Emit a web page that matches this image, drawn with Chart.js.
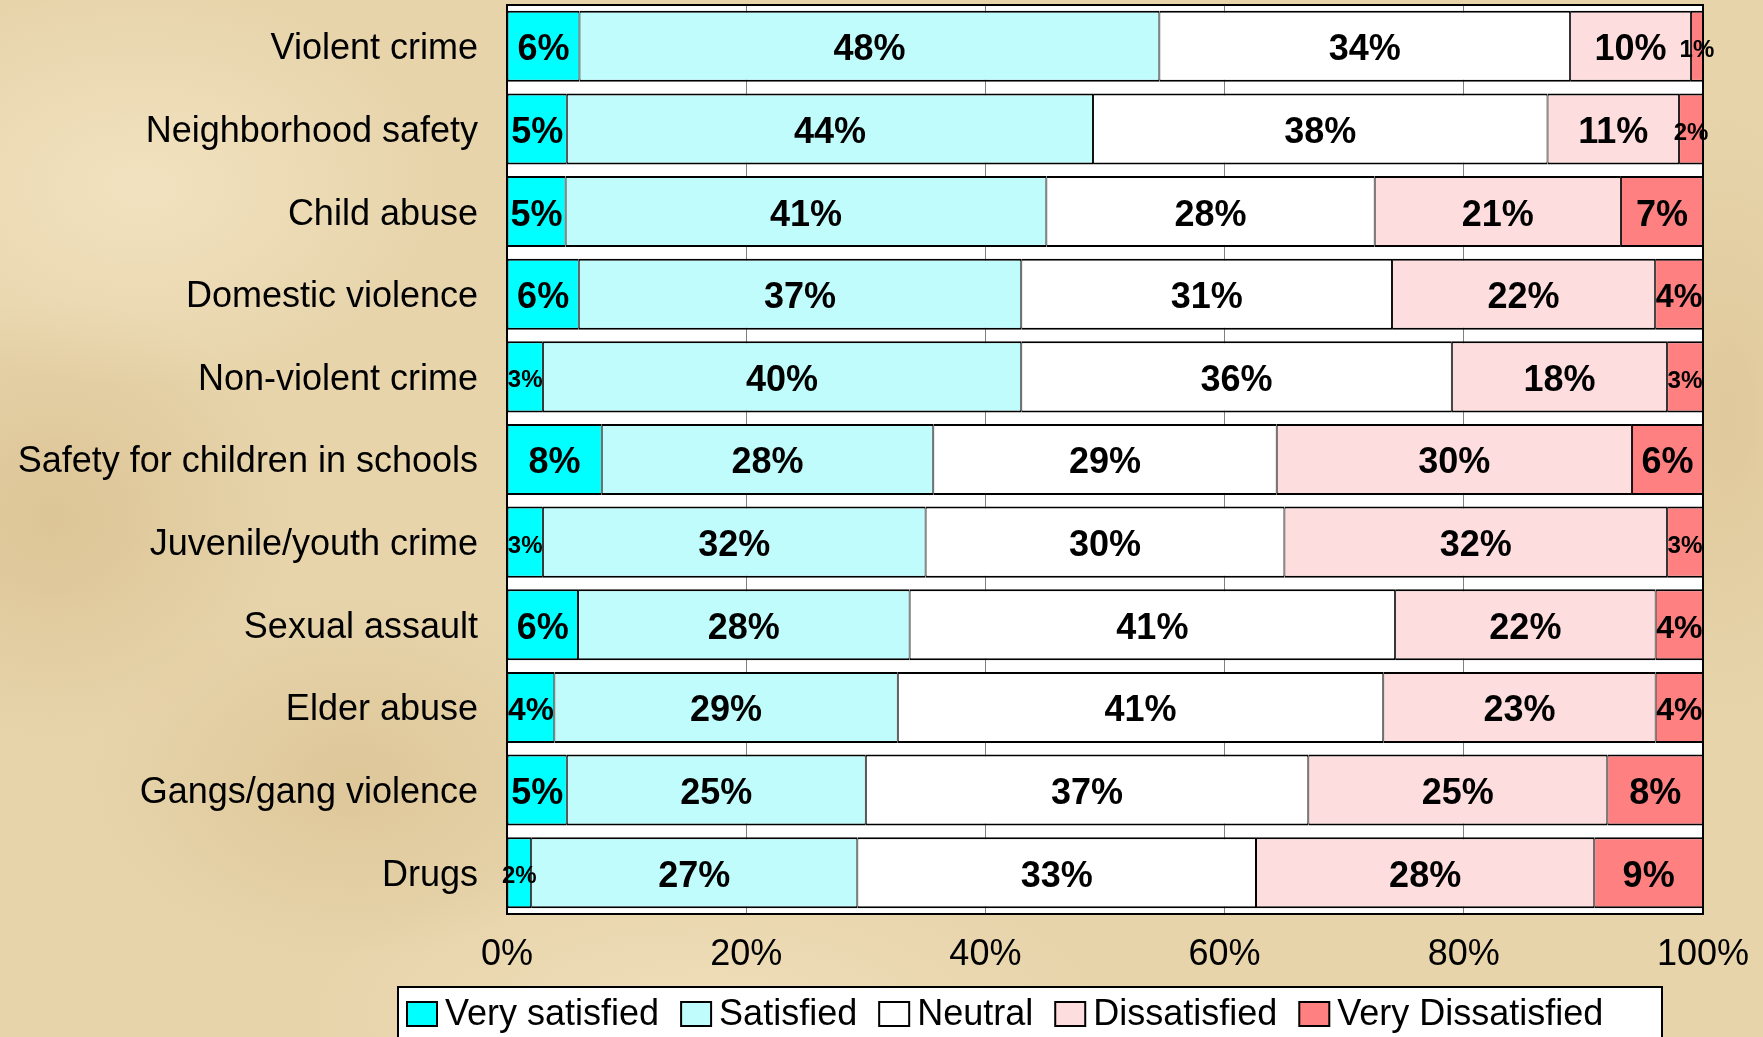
<!DOCTYPE html>
<html>
<head>
<meta charset="utf-8">
<script src="https://cdn.jsdelivr.net/npm/chart.js@4/dist/chart.umd.min.js"></script>
<style>
html,body{margin:0;padding:0;}
body{
  width:1763px;height:1037px;overflow:hidden;
  background:
    radial-gradient(ellipse 300px 200px at 8% 18%, rgba(250,238,208,0.55), rgba(250,238,208,0) 100%),
    radial-gradient(ellipse 260px 180px at 20% 75%, rgba(205,175,120,0.35), rgba(205,175,120,0) 100%),
    radial-gradient(ellipse 240px 220px at 3% 50%, rgba(200,168,110,0.35), rgba(200,168,110,0) 100%),
    radial-gradient(ellipse 400px 160px at 40% 98%, rgba(248,232,200,0.5), rgba(248,232,200,0) 100%),
    radial-gradient(ellipse 120px 300px at 98% 40%, rgba(210,180,125,0.35), rgba(210,180,125,0) 100%),
    #E7D4AB;
}
canvas{display:block;}
</style>
</head>
<body>
<canvas id="c" width="1763" height="1037"></canvas>
<script>
const categories = ["Violent crime","Neighborhood safety","Child abuse","Domestic violence","Non-violent crime","Safety for children in schools","Juvenile/youth crime","Sexual assault","Elder abuse","Gangs/gang violence","Drugs"];
const seriesNames = ["Very satisfied","Satisfied","Neutral","Dissatisfied","Very Dissatisfied"];
const verySatisfied    = [6,5,5,6,3,8,3,6,4,5,2];
const satisfied        = [48,44,41,37,40,28,32,28,29,25,27];
const neutral          = [34,38,28,31,36,29,30,41,41,37,33];
const dissatisfied     = [10,11,21,22,18,30,32,22,23,25,28];
const veryDissatisfied = [1,2,7,4,3,6,3,4,4,8,9];
const xTicks = [0,20,40,60,80,100];

const colors = ["#00FFFF","#C0FCFC","#FFFFFF","#FDDDDD","#FF8080"];
const raw = [verySatisfied, satisfied, neutral, dissatisfied, veryDissatisfied];
const totals = categories.map((_, i) => raw.reduce((s, a) => s + a[i], 0));
const FONT = "'Liberation Sans', Arial, Helvetica, sans-serif";

const datasets = raw.map((arr, k) => ({
  label: seriesNames[k],
  raw: arr,
  data: arr.map((v, i) => v / totals[i] * 100),
  backgroundColor: colors[k],
  borderColor: "#000000",
  borderWidth: {top:2, bottom:2, left:1, right:1},
  borderSkipped: false,
  barPercentage: 0.86,
  categoryPercentage: 1.0
}));

const plotBg = {
  id: 'plotBg',
  beforeDraw(chart) {
    const {ctx, chartArea:a} = chart;
    ctx.save();
    ctx.fillStyle = '#FFFFFF';
    ctx.fillRect(a.left, a.top, a.right - a.left, a.bottom - a.top);
    ctx.restore();
  }
};

const labelsPlugin = {
  id: 'segLabels',
  afterDatasetsDraw(chart) {
    const {ctx} = chart;
    ctx.save();
    ctx.fillStyle = '#000';
    ctx.textAlign = 'center';
    ctx.textBaseline = 'middle';
    chart.data.datasets.forEach((ds, k) => {
      const meta = chart.getDatasetMeta(k);
      meta.data.forEach((el, i) => {
        const w = Math.abs(el.x - el.base);
        const size = Math.max(24, Math.min(36, w / 1.48));
        ctx.font = 'bold ' + size + 'px ' + FONT;
        ctx.fillText(ds.raw[i] + '%', (el.x + el.base) / 2, el.y + 4);
      });
    });
    const a = chart.chartArea;
    ctx.strokeStyle = '#000';
    ctx.lineWidth = 2;
    ctx.strokeRect(a.left, a.top, a.right - a.left, a.bottom - a.top);
    ctx.restore();
  }
};

const legendPlugin = {
  id: 'boxLegend',
  afterDraw(chart) {
    const {ctx} = chart;
    ctx.save();
    ctx.fillStyle = '#FFFFFF';
    ctx.fillRect(398, 987, 1264, 70);
    ctx.strokeStyle = '#000';
    ctx.lineWidth = 2;
    ctx.strokeRect(398, 987, 1264, 70);
    ctx.font = '36px ' + FONT;
    ctx.textBaseline = 'middle';
    ctx.textAlign = 'left';
    let x = 407;
    const cy = 1015;
    chart.data.datasets.forEach(ds => {
      ctx.fillStyle = ds.backgroundColor;
      ctx.fillRect(x, cy - 13, 30, 24);
      ctx.lineWidth = 2;
      ctx.strokeStyle = '#000';
      ctx.strokeRect(x, cy - 13, 30, 24);
      ctx.fillStyle = '#000';
      ctx.fillText(ds.label, x + 38, cy);
      x += 38 + ctx.measureText(ds.label).width + 22;
    });
    ctx.restore();
  }
};

new Chart(document.getElementById('c'), {
  type: 'bar',
  data: { labels: categories, datasets },
  options: {
    indexAxis: 'y',
    responsive: false,
    animation: false,
    devicePixelRatio: 1,
    layout: { padding: {left:0, right:60, top:5, bottom:0} },
    plugins: { legend: {display:false}, tooltip: {enabled:false} },
    scales: {
      x: {
        stacked: true, min: 0, max: 100,
        afterBuildTicks: s => { s.ticks = xTicks.map(v => ({value:v})); },
        afterFit: s => { s.height = 123; s.paddingLeft = 0; s.paddingRight = 0; },
        ticks: { callback: v => v + '%', font: {size:36, family: FONT}, color:'#000', padding: 19, maxRotation:0 },
        grid: { color:'#808080', lineWidth:1, drawTicks:false },
        border: { display:false }
      },
      y: {
        stacked: true,
        afterFit: s => { s.width = 507; s.paddingTop = 0; s.paddingBottom = 0; },
        ticks: { font: {size:36, family: FONT}, color:'#000', padding: 29, labelOffset: 3 },
        grid: { display:false, drawTicks:false },
        border: { display:false }
      }
    }
  },
  plugins: [plotBg, labelsPlugin, legendPlugin]
});
</script>
</body>
</html>
